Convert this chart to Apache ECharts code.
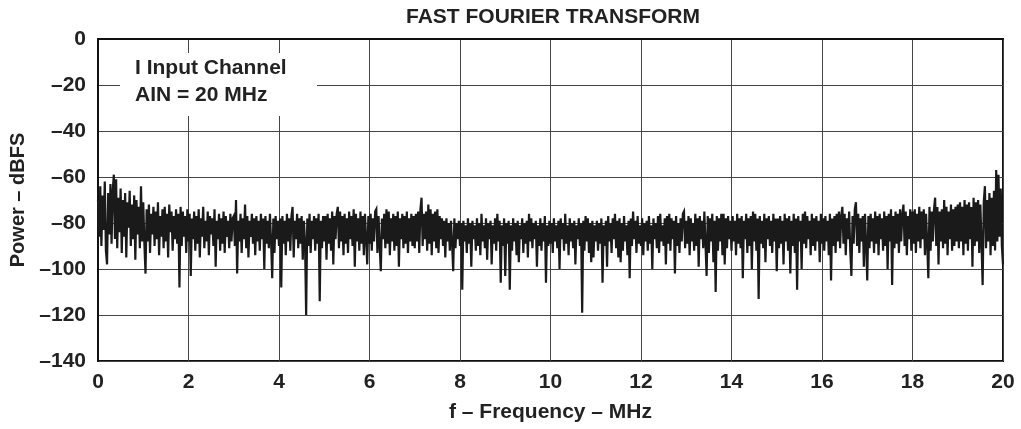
<!DOCTYPE html>
<html>
<head>
<meta charset="utf-8">
<script src="https://cdn.jsdelivr.net/npm/echarts@6/dist/echarts.min.js"></script>
<style>html,body{margin:0;padding:0;background:#fff}#c{width:1021px;height:429px}</style>
</head>
<body>
<div id="c"></div>
<script>
const titleText = 'FAST FOURIER TRANSFORM';
const xName = 'f – Frequency – MHz';
const yName = 'Power – dBFS';
const boxLines = ['I Input Channel', 'AIN = 20 MHz'];
const xTicks = [0, 2, 4, 6, 8, 10, 12, 14, 16, 18, 20];
const yTicks = [0, -20, -40, -60, -80, -100, -120, -140];
const freqStep = 0.025; // MHz between bins
const power = [
  -70,-86,-64,-90,-68,-83,-62,-92,-98,-67,-85,-63,-89,-66,-59,-87,-61,-91,-69,-84,-65,-93,-70,-86,-67,-95,-71,-82,-66,-90,-72,-87,-68,-96,-70,-85,-73,-91,-64,-88,
  -71,-89,-102,-74,-88,-72,-93,-76,-85,-73,-90,-75,-87,-71,-94,-77,-86,-74,-91,-73,-88,-76,-95,-72,-84,-75,-92,-77,-87,-74,-89,-76,-108,-73,-90,-75,-86,-77,-93,-74,
  -88,-76,-103,-78,-87,-75,-92,-77,-89,-74,-95,-78,-86,-73,-91,-79,-88,-75,-94,-77,-85,-78,-90,-74,-99,-79,-87,-76,-92,-78,-89,-75,-93,-77,-86,-79,-91,-76,-88,-78,
  -77,-90,-70,-102,-79,-88,-76,-93,-78,-87,-72,-91,-77,-95,-79,-86,-76,-89,-78,-94,-77,-88,-79,-92,-76,-87,-78,-100,-77,-89,-79,-91,-76,-88,-104,-78,-93,-77,-87,-79,
  -90,-78,-108,-77,-89,-79,-94,-76,-88,-78,-92,-77,-73,-95,-79,-87,-76,-91,-78,-89,-77,-96,-79,-88,-120,-78,-90,-76,-93,-79,-87,-77,-92,-78,-89,-76,-114,-79,-91,-77,
  -88,-77,-96,-76,-89,-78,-92,-75,-98,-77,-87,-76,-73,-91,-75,-88,-77,-94,-76,-89,-78,-93,-75,-87,-77,-90,-74,-99,-76,-88,-78,-92,-75,-89,-77,-94,-76,-87,-98,-77,
  -89,-76,-92,-78,-88,-75,-74,-93,-77,-90,-101,-78,-87,-76,-91,-74,-89,-75,-94,-78,-88,-76,-92,-77,-90,-75,-99,-78,-87,-76,-91,-77,-89,-75,-93,-78,-88,-76,-90,-77,
  -91,-76,-88,-75,-93,-74,-69,-90,-76,-87,-75,-92,-72,-89,-74,-94,-76,-88,-75,-91,-74,-93,-77,-87,-78,-90,-79,-95,-78,-88,-80,-92,-79,-89,-101,-78,-91,-80,-87,-79,
  -90,-80,-109,-79,-88,-81,-93,-78,-89,-80,-99,-79,-87,-81,-92,-78,-90,-80,-94,-76,-88,-81,-91,-78,-96,-80,-87,-79,-98,-81,-89,-78,-92,-76,-88,-79,-106,-81,-90,-78,
  -103,-80,-89,-79,-109,-81,-92,-78,-88,-80,-94,-79,-97,-81,-87,-78,-93,-80,-89,-79,-95,-76,-88,-78,-91,-80,-87,-79,-99,-81,-90,-78,-92,-80,-88,-77,-106,-81,-90,-79,
  -89,-80,-93,-78,-88,-81,-91,-79,-100,-78,-87,-80,-92,-76,-89,-81,-94,-78,-88,-80,-91,-79,-98,-81,-87,-78,-90,-80,-119,-79,-92,-77,-88,-78,-93,-80,-97,-79,-95,-81,
  -88,-79,-92,-80,-89,-78,-106,-81,-90,-79,-99,-77,-88,-80,-93,-78,-87,-76,-91,-79,-95,-78,-97,-80,-92,-77,-88,-81,-94,-79,-104,-78,-90,-75,-87,-79,-93,-77,-89,-81,
  -90,-78,-94,-80,-88,-79,-92,-77,-89,-81,-100,-78,-87,-80,-91,-77,-93,-76,-88,-81,-90,-78,-98,-77,-89,-76,-92,-78,-87,-79,-102,-77,-90,-80,-93,-78,-88,-76,-75,-91,
  -79,-89,-77,-94,-78,-88,-80,-92,-76,-90,-78,-99,-77,-87,-79,-91,-75,-89,-103,-77,-93,-78,-88,-76,-97,-79,-110,-77,-92,-78,-88,-76,-94,-76,-98,-78,-91,-77,-87,-79,
  -92,-77,-88,-79,-94,-76,-89,-78,-91,-77,-104,-79,-87,-76,-93,-78,-90,-77,-100,-75,-88,-76,-92,-78,-113,-77,-89,-79,-91,-76,-97,-78,-87,-77,-90,-79,-93,-76,-88,-78,
  -101,-78,-91,-77,-89,-79,-98,-76,-88,-78,-92,-77,-102,-79,-90,-76,-93,-78,-109,-77,-88,-79,-100,-76,-89,-75,-91,-77,-87,-79,-94,-76,-90,-78,-92,-77,-88,-79,-97,-76,
  -89,-78,-92,-77,-88,-79,-94,-76,-105,-78,-90,-77,-93,-76,-88,-75,-91,-77,-73,-89,-76,-94,-78,-87,-75,-92,-103,-77,-89,-74,-71,-90,-76,-93,-78,-88,-77,-99,-76,-89,
  -105,-77,-91,-76,-88,-78,-93,-75,-89,-77,-94,-76,-87,-78,-92,-75,-90,-77,-100,-76,-88,-74,-107,-77,-91,-75,-89,-76,-93,-74,-88,-76,-72,-90,-75,-94,-77,-87,-74,-92,
  -75,-89,-74,-93,-76,-88,-73,-91,-75,-87,-74,-94,-76,-89,-104,-73,-92,-75,-88,-74,-69,-90,-73,-98,-75,-88,-74,-91,-70,-89,-73,-94,-75,-87,-72,-92,-74,-90,-73,-88,
  -72,-91,-71,-88,-73,-94,-70,-89,-72,-92,-71,-87,-73,-99,-69,-90,-71,-88,-70,-93,-72,-89,-107,-71,-64,-91,-70,-88,-67,-94,-69,-90,-66,-92,-57,-88,-59,-86,-65,-90,
  -98
];

const seriesData = power.map((v, i) => [+(i * freqStep).toFixed(3), v]);
const dash = v => String(v).replace('-', '–');
const font = '"Liberation Sans", Arial, sans-serif';

const chart = echarts.init(document.getElementById('c'), null, {renderer: 'canvas'});
chart.setOption({
  animation: false,
  backgroundColor: '#fff',
  title: {
    text: titleText, left: 548, top: 2, textAlign: 'center',
    textStyle: {fontFamily: font, fontWeight: 'bold', fontSize: 21, color: '#222'}
  },
  grid: {left: 98, right: 18, top: 39, bottom: 68, show: true, borderColor: '#111', borderWidth: 2, backgroundColor: 'transparent'},
  xAxis: {
    type: 'value', min: 0, max: 20, interval: 2,
    name: xName, nameLocation: 'middle', nameGap: 41,
    nameTextStyle: {fontFamily: font, fontWeight: 'bold', fontSize: 21, color: '#222'},
    axisLine: {show: true, lineStyle: {color: '#111', width: 2}},
    axisTick: {show: false},
    axisLabel: {fontFamily: font, fontWeight: 'bold', fontSize: 21, color: '#222', margin: 11,
      formatter: v => xTicks.includes(v) ? String(v) : ''},
    splitLine: {show: true, lineStyle: {color: '#444', width: 1}}
  },
  yAxis: {
    type: 'value', min: -140, max: 0, interval: 20,
    name: yName, nameLocation: 'middle', nameGap: 70, nameRotate: 90,
    nameTextStyle: {fontFamily: font, fontWeight: 'bold', fontSize: 20, color: '#222'},
    axisLine: {show: true, lineStyle: {color: '#111', width: 2}},
    axisTick: {show: false},
    axisLabel: {fontFamily: font, fontWeight: 'bold', fontSize: 21, color: '#222', margin: 12,
      formatter: v => yTicks.includes(v) ? dash(v) : ''},
    splitLine: {show: true, lineStyle: {color: '#444', width: 1}}
  },
  series: [{
    type: 'line', data: seriesData, showSymbol: false, symbol: 'none', sampling: null,
    lineStyle: {color: '#1a1a1a', width: 2.2, join: 'miter'}, z: 3
  }],
  graphic: [
    {type: 'rect', shape: {x: 120, y: 53, width: 197, height: 63}, style: {fill: '#fff'}, z: 10},
    {type: 'text', left: 135, top: 55, z: 11, style: {text: boxLines.join('\n'), font: 'bold 21px ' + font, fill: '#222', lineHeight: 27}}
  ]
});
</script>
</body>
</html>
